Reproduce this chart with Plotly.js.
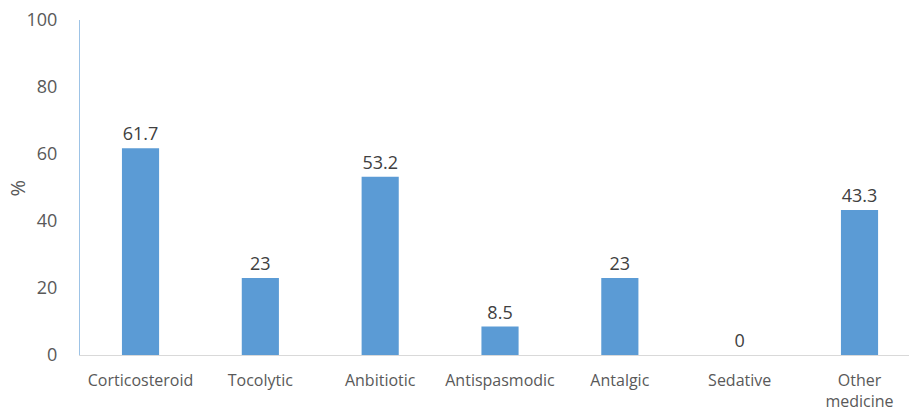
<!DOCTYPE html>
<html>
<head>
<meta charset="utf-8">
<script src="https://cdn.plot.ly/plotly-3.0.1.min.js"></script>
<style>html,body{margin:0;padding:0;background:#fff;}#chart{width:909px;height:412px;}</style>
</head>
<body>
<div id="chart"></div>
<script>
const categories = ["Corticosteroid", "Tocolytic", "Anbitiotic", "Antispasmodic", "Antalgic", "Sedative", "Other<br>medicine"];
const values = [61.7, 23, 53.2, 8.5, 23, 0, 43.3];
const valueLabels = ["61.7", "23", "53.2", "8.5", "23", "0", "43.3"];
const yTicks = [0, 20, 40, 60, 80, 100];
const yTitle = "%";

const font = "'Open Sans', 'Segoe UI', sans-serif";

Plotly.newPlot("chart", [{
  type: "bar",
  x: categories,
  y: values,
  text: valueLabels,
  textposition: "outside",
  cliponaxis: false,
  textfont: {family: font, size: 18, color: "#404040"},
  marker: {color: "#5B9BD5"},
  width: 0.31,
  hoverinfo: "x+y"
}], {
  width: 909,
  height: 412,
  margin: {l: 80, r: 0, t: 20, b: 57},
  paper_bgcolor: "#ffffff",
  plot_bgcolor: "#ffffff",
  showlegend: false,
  font: {family: font, color: "#595959"},
  xaxis: {
    type: "category",
    range: [-0.505, 6.413],
    showgrid: false,
    showline: true,
    linecolor: "#D9D9D9",
    linewidth: 1,
    ticks: "outside",
    ticklen: 11,
    tickcolor: "rgba(0,0,0,0)",
    tickfont: {family: font, size: 16, color: "#595959"},
    zeroline: false,
    fixedrange: true
  },
  yaxis: {
    range: [0, 100],
    tickvals: yTicks,
    showgrid: false,
    showline: true,
    linecolor: "#9DC3E6",
    linewidth: 1,
    ticks: "outside",
    ticklen: 18,
    tickcolor: "rgba(0,0,0,0)",
    tickfont: {family: font, size: 18, color: "#595959"},
    zeroline: false,
    fixedrange: true
  },
  annotations: [{
    text: yTitle,
    xref: "paper", yref: "paper",
    x: -0.0748, y: 0.5,
    xanchor: "center", yanchor: "middle",
    textangle: -90,
    showarrow: false,
    font: {family: font, size: 20, color: "#595959"}
  }]
}, {displayModeBar: false, staticPlot: true});
</script>
</body>
</html>
